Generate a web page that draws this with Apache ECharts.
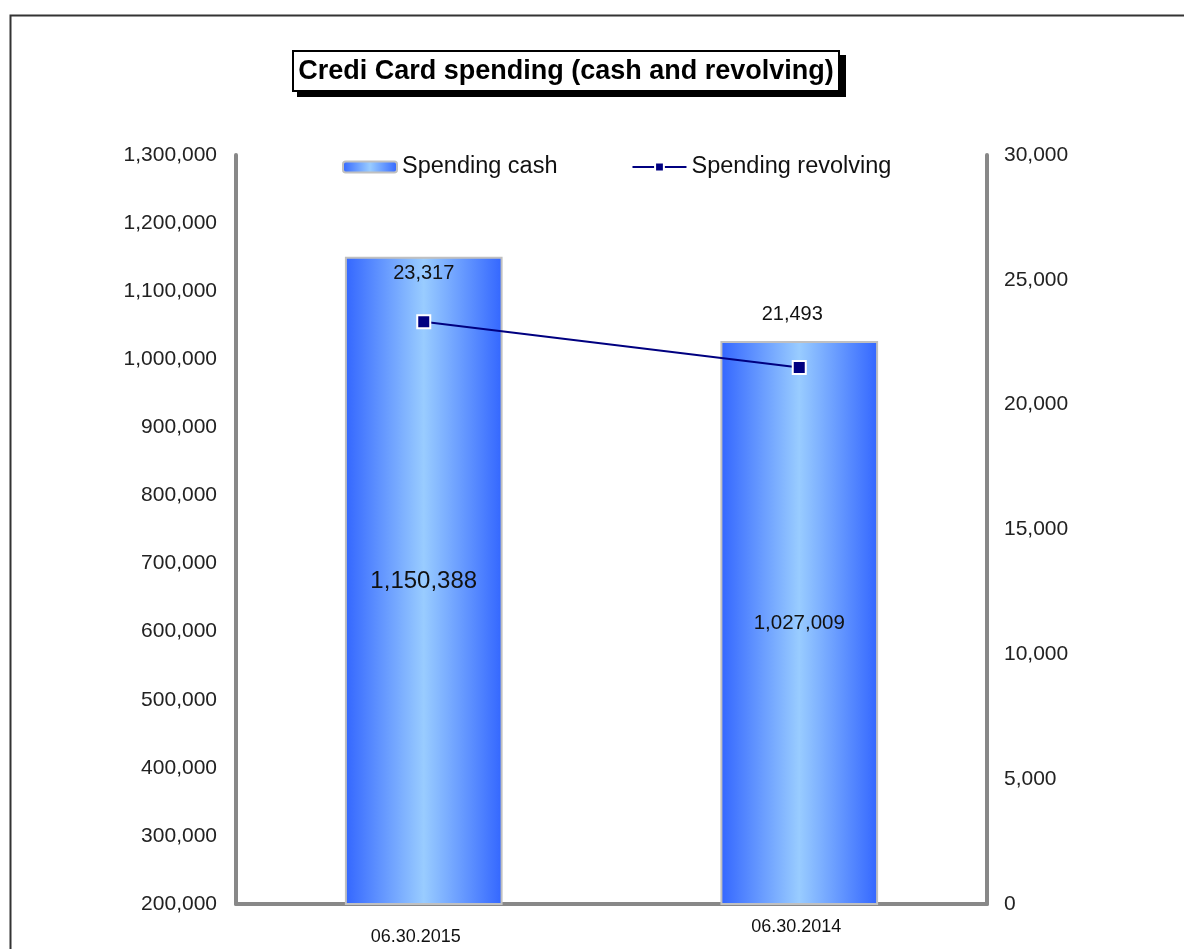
<!DOCTYPE html>
<html>
<head>
<meta charset="utf-8">
<script src="https://cdn.jsdelivr.net/npm/echarts@6/dist/echarts.min.js"></script>
<style>
html,body{margin:0;padding:0;background:#fff;}
#chart{width:1184px;height:949px;}
</style>
</head>
<body>
<div id="chart"></div>
<script>
var categories = ['06.30.2015', '06.30.2014'];
var spendingCash = [1150388, 1027009];
var spendingRevolving = [23317, 21493];
var leftTicks = { min: 200000, max: 1300000, interval: 100000 };
var rightTicks = { min: 0, max: 30000, interval: 5000 };

var FONT = '"Liberation Sans", Arial, sans-serif';
function fmt(v) { return Number(v).toLocaleString('en-US'); }

var chart = echarts.init(document.getElementById('chart'));

var barGradient = new echarts.graphic.LinearGradient(0, 0, 1, 0, [
  { offset: 0, color: '#3366ff' },
  { offset: 0.5, color: '#99ccff' },
  { offset: 1, color: '#3366ff' }
]);

var barLabelSizes = [24, 20.5];
var lineLabelCfg = [
  { distance: 31, offset: [0, 0] },
  { distance: 35, offset: [-7, 0] }
];
var xLabelStyles = ['a', 'b'];

var option = {
  backgroundColor: '#fff',
  animation: false,
  textStyle: { fontFamily: FONT },
  graphic: [{
    type: 'rect',
    left: 8, top: 13,
    shape: { x: 0, y: 0, width: 1200, height: 1000 },
    style: { fill: 'none', stroke: '#333', lineWidth: 2 },
    silent: true, z: 1
  }, {
    type: 'rect',
    left: 297, top: 55,
    shape: { x: 0, y: 0, width: 549, height: 42 },
    style: { fill: '#000' },
    silent: true, z: 2
  }, {
    type: 'rect',
    left: 292, top: 50,
    shape: { x: 0, y: 0, width: 546, height: 40 },
    style: { fill: '#fff', stroke: '#000', lineWidth: 2 },
    silent: true, z: 3
  }],
  title: {
    text: 'Credi Card spending (cash and revolving)',
    left: 566, top: 58, textAlign: 'center',
    padding: 0,
    z: 10,
    textStyle: { fontFamily: FONT, fontSize: 27, fontWeight: 'bold', color: '#000' }
  },
  legend: {
    left: 342, top: 155,
    padding: 0,
    itemWidth: 54, itemHeight: 11,
    itemGap: 74,
    textStyle: { fontFamily: FONT, fontSize: 23.5, color: '#111' },
    data: ['Spending cash', 'Spending revolving']
  },
  grid: { left: 236, right: 197, top: 155, bottom: 45, containLabel: false },
  xAxis: {
    type: 'category',
    data: categories,
    axisLine: { show: true, lineStyle: { color: '#888', width: 4 } },
    axisTick: { show: false },
    axisLabel: {
      margin: 14,
      formatter: function (v, i) { return '{' + xLabelStyles[i] + '|' + v + '}'; },
      rich: {
        a: { fontFamily: FONT, fontSize: 18, color: '#111', padding: [10, 16, 0, 0] },
        b: { fontFamily: FONT, fontSize: 18, color: '#111', padding: [0, 6, 0, 0] }
      }
    }
  },
  yAxis: [{
    type: 'value',
    min: leftTicks.min, max: leftTicks.max, interval: leftTicks.interval,
    axisLine: { show: true, lineStyle: { color: '#888', width: 4 } },
    axisTick: { show: false },
    splitLine: { show: false },
    axisLabel: { margin: 19, fontFamily: FONT, fontSize: 21, color: '#222', formatter: fmt }
  }, {
    type: 'value',
    min: rightTicks.min, max: rightTicks.max, interval: rightTicks.interval,
    axisLine: { show: true, lineStyle: { color: '#888', width: 4 } },
    axisTick: { show: false },
    splitLine: { show: false },
    axisLabel: { margin: 17, fontFamily: FONT, fontSize: 21, color: '#222', formatter: fmt }
  }],
  series: [{
    name: 'Spending cash',
    type: 'bar',
    yAxisIndex: 0,
    barWidth: '42%',
    itemStyle: { color: barGradient, borderColor: '#c0c0c0', borderWidth: 2 },
    data: spendingCash.map(function (v, i) {
      return { value: v, label: { fontSize: barLabelSizes[i] } };
    }),
    label: {
      show: true, position: 'inside', color: '#111', fontFamily: FONT,
      formatter: function (p) { return fmt(p.value); }
    }
  }, {
    name: 'Spending revolving',
    type: 'line',
    yAxisIndex: 1,
    symbol: 'rect',
    symbolSize: 13,
    lineStyle: { color: '#000080', width: 2 },
    itemStyle: { color: '#000080', borderColor: '#fff', borderWidth: 2 },
    data: spendingRevolving.map(function (v, i) {
      return { value: v, label: { distance: lineLabelCfg[i].distance, offset: lineLabelCfg[i].offset } };
    }),
    label: {
      show: true, position: 'top', color: '#111', fontFamily: FONT, fontSize: 20,
      formatter: function (p) { return fmt(p.value); }
    }
  }]
};
chart.setOption(option);
</script>
</body>
</html>
